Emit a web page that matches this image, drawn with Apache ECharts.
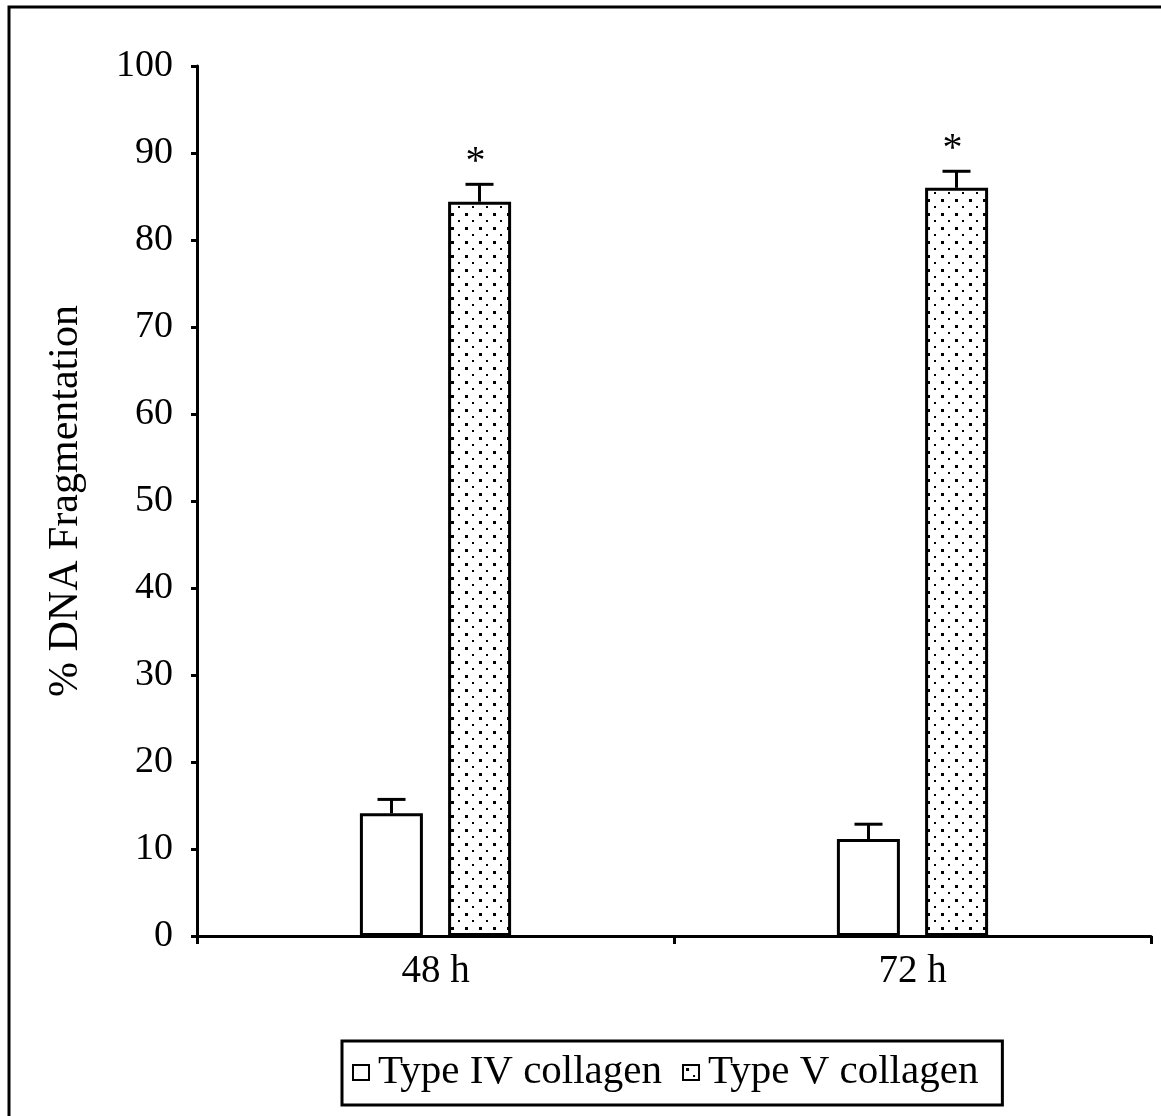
<!DOCTYPE html>
<html>
<head>
<meta charset="utf-8">
<script src="https://cdn.jsdelivr.net/npm/echarts@6/dist/echarts.min.js"></script>
<style>html,body{margin:0;padding:0;background:#fff}#c{width:1161px;height:1116px}</style>
</head>
<body>
<div id="c"></div>
<script>
const categories = ['48 h', '72 h'];
const typeIV = [14.1, 11.15];
const typeIVErr = [1.6, 1.7];
const typeV = [84.4, 86.0];
const typeVErr = [2.0, 1.9];
const significance = ['*', '*'];
const yTicks = [0, 10, 20, 30, 40, 50, 60, 70, 80, 90, 100];
const seriesNames = ['Type IV collagen', 'Type V collagen'];

function makePattern() {
  const c = document.createElement('canvas');
  c.width = 14; c.height = 14;
  const g = c.getContext('2d');
  g.fillStyle = '#fff'; g.fillRect(0, 0, 14, 14);
  g.fillStyle = '#000';
  g.fillRect(3, 3, 3, 3);
  g.fillRect(10, 10, 2, 2);
  return c;
}
const dots = { image: makePattern(), repeat: 'repeat' };

const FONT = '"Liberation Serif", "Times New Roman", serif';
const BAR_W = 63;
const OFF = 44;

function errSeries(vals, errs, offset, marks) {
  return {
    type: 'custom',
    silent: true,
    z: 5,
    data: vals.map((v, i) => [i, v, errs[i]]),
    renderItem(params, api) {
      const i = api.value(0), v = api.value(1), e = api.value(2);
      const base = api.coord([i, v]);
      const top = api.coord([i, v + e]);
      const cx = base[0] + offset;
      const children = [
        { type: 'line', shape: { x1: cx, y1: base[1], x2: cx, y2: top[1] }, style: { stroke: '#000', lineWidth: 3 } },
        { type: 'line', shape: { x1: cx - 14, y1: top[1], x2: cx + 14, y2: top[1] }, style: { stroke: '#000', lineWidth: 3 } }
      ];
      const m = marks ? marks[params.dataIndex] : '';
      if (m) {
        children.push({ type: 'text', style: { text: m, x: cx - 4, y: top[1] - 22, align: 'center', verticalAlign: 'middle', font: '40px ' + FONT, fill: '#000' } });
      }
      return { type: 'group', children };
    }
  };
}

const chart = echarts.init(document.getElementById('c'), null, { renderer: 'canvas' });
chart.setOption({
  backgroundColor: '#fff',
  animation: false,
  graphic: [{
    type: 'rect', shape: { x: 9, y: 7, width: 1300, height: 1300 },
    style: { fill: 'none', stroke: '#000', lineWidth: 3 }, z: -1, silent: true
  }],
  grid: { left: 197, right: 10, top: 66, bottom: 180 },
  legend: {
    data: seriesNames.map(n => ({ name: n, icon: 'rect' })),
    left: 342, top: 1041,
    orient: 'horizontal',
    borderColor: '#000', borderWidth: 3,
    padding: [11, 24, 12, 10],
    itemWidth: 16, itemHeight: 15, itemGap: 20,
    itemStyle: { borderWidth: 2, borderColor: '#000' },
    textStyle: { fontFamily: FONT, fontSize: 41, color: '#000', padding: [0, 0, 0, 4] }
  },
  xAxis: {
    type: 'category',
    data: categories,
    axisLine: { lineStyle: { color: '#000', width: 3 } },
    axisTick: { show: true, alignWithLabel: false, length: 8, lineStyle: { color: '#000', width: 3 } },
    axisLabel: { color: '#000', fontFamily: FONT, fontSize: 39, margin: 16 },
    splitLine: { show: false }
  },
  yAxis: {
    type: 'value',
    min: 0, max: 100, interval: 10,
    name: '% DNA Fragmentation',
    nameLocation: 'middle', nameRotate: 90, nameGap: 110,
    nameTextStyle: { color: '#000', fontFamily: FONT, fontSize: 42 },
    axisLine: { show: true, lineStyle: { color: '#000', width: 3 } },
    axisTick: { show: true, length: 6, lineStyle: { color: '#000', width: 3 } },
    axisLabel: { color: '#000', fontFamily: FONT, fontSize: 38, margin: 24,
      formatter: v => (yTicks.indexOf(v) >= 0 ? String(v) : '') },
    splitLine: { show: false }
  },
  series: [
    { name: seriesNames[0], type: 'bar', data: typeIV, barWidth: BAR_W, barGap: '40%',
      itemStyle: { color: '#fff', borderColor: '#000', borderWidth: 3 } },
    { name: seriesNames[1], type: 'bar', data: typeV, barWidth: BAR_W, barGap: '40%',
      itemStyle: { color: dots, borderColor: '#000', borderWidth: 3 } },
    errSeries(typeIV, typeIVErr, -OFF, null),
    errSeries(typeV, typeVErr, OFF, significance)
  ]
});
</script>
</body>
</html>
